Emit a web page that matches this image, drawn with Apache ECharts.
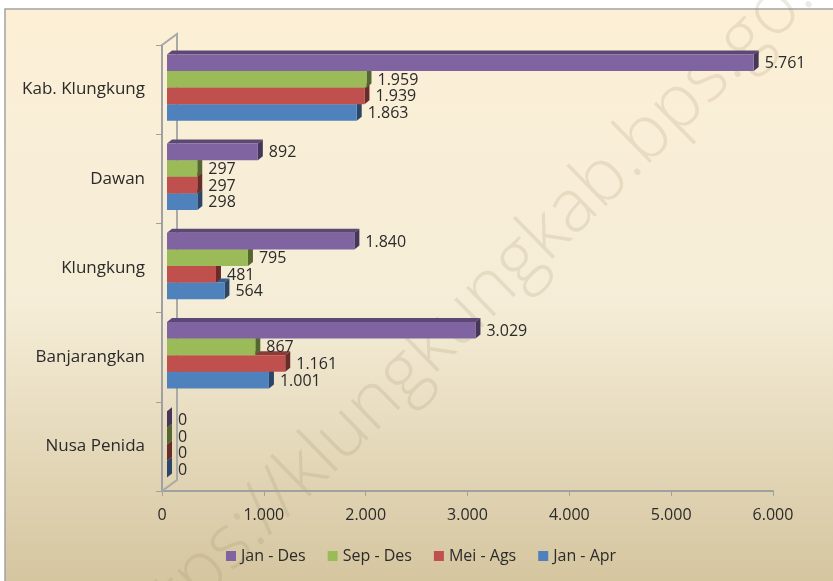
<!DOCTYPE html>
<html>
<head>
<meta charset="utf-8">
<script src="https://cdn.jsdelivr.net/npm/echarts@6/dist/echarts.min.js"></script>
<style>
  html, body { margin: 0; padding: 0; background: #ffffff; }
  #chart { width: 833px; height: 581px; }
</style>
</head>
<body>
<div id="chart"></div>
<script>
// Districts, listed top to bottom
const categories = ['Kab. Klungkung', 'Dawan', 'Klungkung', 'Banjarangkan', 'Nusa Penida'];

// Period values per district (same order as categories)
const janDes = [5761, 892, 1840, 3029, 0];
const sepDes = [1959, 297, 795, 867, 0];
const meiAgs = [1939, 297, 481, 1161, 0];
const janApr = [1863, 298, 564, 1001, 0];

const seriesNames = ['Jan - Des', 'Sep - Des', 'Mei - Ags', 'Jan - Apr'];
const seriesColors = ['#8064A2', '#9BBB59', '#C0504D', '#4F81BD'];
const seriesValues = [janDes, sepDes, meiAgs, janApr];

const xTicks = { min: 0, max: 6000, interval: 1000 };

const FONT = '"Open Sans", "Noto Sans", sans-serif';
const TEXT_COLOR = '#2b2b2b';
const DX = 5;   // bar depth, horizontal
const DY = 4;   // bar depth, vertical

function fmt(v) {
  return String(Math.round(v)).replace(/\B(?=(\d{3})+(?!\d))/g, '.');
}

function shade(hex, f) {
  const n = parseInt(hex.slice(1), 16);
  const r = Math.round(((n >> 16) & 255) * f);
  const g = Math.round(((n >> 8) & 255) * f);
  const b = Math.round((n & 255) * f);
  return 'rgb(' + r + ',' + g + ',' + b + ')';
}

// 3D-look horizontal bar; slot 0 is the top bar of each group
function barRenderer(slot, color) {
  return function (params, api) {
    const v = api.value(0);
    const ci = api.value(1);
    const p0 = api.coord([0, ci]);
    const p1 = api.coord([v, ci]);
    const band = api.size([0, 1])[1];
    const h = band * 0.186;
    const y = p0[1] - 2 * h - 2 + slot * h;
    const x0 = p0[0] + DX;
    const x1 = p1[0] + DX;
    return {
      type: 'group',
      children: [
        { type: 'polygon', shape: { points: [[x0, y], [x1, y], [x1 + DX, y - DY], [x0 + DX, y - DY]] },
          style: { fill: shade(color, 0.72) } },
        { type: 'polygon', shape: { points: [[x1, y], [x1 + DX, y - DY], [x1 + DX, y + h - DY], [x1, y + h]] },
          style: { fill: shade(color, 0.55) } },
        { type: 'rect', shape: { x: x0, y: y, width: Math.max(x1 - x0, 0), height: h },
          style: { fill: color } },
        { type: 'text', style: { text: fmt(v), x: p1[0] + 2 * DX + 6, y: y + h / 2 + 1,
          verticalAlign: 'middle', align: 'left', font: '16px ' + FONT, fill: TEXT_COLOR } }
      ]
    };
  };
}

const series = [];
// draw lower bars first so upper bars overlap their top faces
for (let s = seriesNames.length - 1; s >= 0; s--) {
  series.push({
    name: seriesNames[s],
    type: 'custom',
    itemStyle: { color: seriesColors[s] },
    encode: { x: 0, y: 1 },
    renderItem: barRenderer(s, seriesColors[s]),
    data: seriesValues[s].map(function (v, i) { return [v, i]; }),
    z: 3
  });
}

// side wall of the plot
series.push({
  name: 'wall',
  type: 'custom',
  silent: true,
  z: 1,
  data: [[0, 0]],
  renderItem: function (params) {
    const cs = params.coordSys;
    const wx = 15, wy = 11;
    return {
      type: 'polyline',
      shape: { points: [[cs.x, cs.y], [cs.x + wx, cs.y - wy], [cs.x + wx, cs.y + cs.height - wy], [cs.x, cs.y + cs.height]] },
      style: { stroke: '#a9a9a6', lineWidth: 2, fill: null }
    };
  }
});

const chart = echarts.init(document.getElementById('chart'), null, { renderer: 'canvas' });
chart.setOption({
  animation: false,
  textStyle: { fontFamily: FONT },
  graphic: [
    { type: 'rect', z: -10, silent: true,
      shape: { x: 5, y: 9, width: 840, height: 590 },
      style: {
        fill: new echarts.graphic.LinearGradient(0, 0, 0, 1, [
          { offset: 0, color: '#FCEFD6' },
          { offset: 0.5, color: '#F5EDD7' },
          { offset: 1, color: '#D3C39C' }
        ]),
        stroke: '#a3a3a3', lineWidth: 1.5
      } },
    { type: 'text', z: -5, silent: true,
      x: 482, y: 298, rotation: 0.775,
      style: { text: 'https://klungkungkab.bps.go.id', font: '300 74px ' + FONT,
        fill: 'rgba(150,128,95,0.17)', align: 'center', verticalAlign: 'middle' } }
  ],
  grid: { left: 162, right: 60, top: 45, bottom: 90 },
  legend: {
    data: seriesNames,
    left: 221, top: 543,
    icon: 'rect', itemWidth: 10, itemHeight: 10, itemGap: 22,
    textStyle: { fontSize: 16, color: TEXT_COLOR, fontFamily: FONT }
  },
  xAxis: {
    type: 'value',
    min: xTicks.min, max: xTicks.max, interval: xTicks.interval,
    axisLine: { show: true, lineStyle: { color: '#a0a0a0', width: 2 } },
    axisTick: { show: true, length: 5, lineStyle: { color: '#a0a0a0' } },
    splitLine: { show: false },
    axisLabel: { fontSize: 16, color: TEXT_COLOR, margin: 16, formatter: fmt }
  },
  yAxis: {
    type: 'category',
    inverse: true,
    data: categories,
    axisLine: { show: true, lineStyle: { color: '#a0a0a0', width: 2 } },
    axisTick: { show: true, length: 6, lineStyle: { color: '#a0a0a0' } },
    axisLabel: { fontSize: 17, color: TEXT_COLOR, margin: 17 }
  },
  series: series
});
</script>
</body>
</html>
